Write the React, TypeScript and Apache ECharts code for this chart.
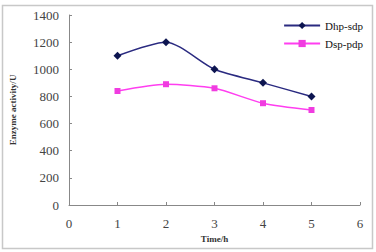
import React, { useEffect, useRef } from "react";
import * as echarts from "echarts";

const times = [1, 2, 3, 4, 5];
const dhpSdp = [1100, 1200, 1000, 900, 800];
const dspPdp = [840, 890, 860, 750, 700];
const seriesNames = ["Dhp-sdp", "Dsp-pdp"];

export default function App() {
  const ref = useRef<HTMLDivElement>(null);
  useEffect(() => {
    if (!ref.current) return;
    const chart = echarts.init(ref.current, null, { renderer: "svg" });
    const font = "'Liberation Serif', 'DejaVu Serif', serif";
    chart.setOption({
      animation: false,
      backgroundColor: "#fff",
      graphic: [
        {
          type: "rect",
          shape: { x: 2.5, y: 5.5, width: 370, height: 243 },
          style: { fill: "none", stroke: "#c8c8c8", lineWidth: 1.5 },
          silent: true,
        },
      ],
      legend: {
        right: 8,
        top: 15,
        orient: "vertical",
        itemWidth: 36,
        itemHeight: 9,
        itemGap: 7,
        textStyle: { fontFamily: font, fontSize: 11, color: "#111" },
        data: seriesNames,
      },
      grid: { left: 67, right: 16, top: 15, bottom: 47 },
      xAxis: {
        type: "value",
        min: 0,
        max: 6,
        interval: 1,
        name: "Time/h",
        nameLocation: "middle",
        nameGap: 27,
        nameTextStyle: { fontFamily: font, fontSize: 9, fontWeight: "bold", color: "#333" },
        axisLine: { lineStyle: { color: "#888" } },
        axisTick: { inside: true, length: 3, lineStyle: { color: "#888" } },
        axisLabel: { fontFamily: font, fontSize: 13, color: "#444", margin: 12 },
        splitLine: { show: false },
      },
      yAxis: {
        type: "value",
        min: 0,
        max: 1400,
        interval: 200,
        name: "Enzyme activity/U",
        nameLocation: "middle",
        nameGap: 52,
        nameTextStyle: { fontFamily: font, fontSize: 9, fontWeight: "bold", color: "#333" },
        axisLine: { show: true, lineStyle: { color: "#888" } },
        axisTick: { show: true, inside: true, length: 3, lineStyle: { color: "#888" } },
        axisLabel: {
          fontFamily: font,
          fontSize: 13,
          color: "#444",
          margin: 10,
          formatter: (v: number) => String(v),
        },
        splitLine: { show: false },
      },
      series: [
        {
          name: seriesNames[0],
          type: "line",
          smooth: 0.25,
          symbol: "diamond",
          symbolSize: 8,
          data: times.map((t, i) => [t, dhpSdp[i]]),
          lineStyle: { color: "#2a2a80", width: 1.5 },
          itemStyle: { color: "#0d1550" },
        },
        {
          name: seriesNames[1],
          type: "line",
          smooth: 0.25,
          symbol: "rect",
          symbolSize: 6,
          data: times.map((t, i) => [t, dspPdp[i]]),
          lineStyle: { color: "#ff3ef0", width: 1.5 },
          itemStyle: { color: "#f03ce0" },
        },
      ],
    });
    return () => chart.dispose();
  }, []);
  return (
    <div
      ref={ref}
      style={{ position: "fixed", left: 0, top: 0, width: 376, height: 252 }}
    />
  );
}
